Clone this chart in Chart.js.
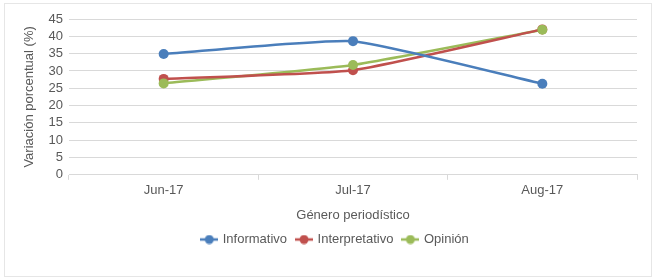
<!DOCTYPE html>
<html>
<head>
<meta charset="utf-8">
<script src="https://cdn.jsdelivr.net/npm/chart.js@4.4.1/dist/chart.umd.min.js"></script>
<style>
  html, body { margin: 0; padding: 0; background: #fff; }
  #wrap { position: relative; width: 657px; height: 279px; }
  #frame { position: absolute; left: 4px; top: 3px; width: 648px; height: 274px; border: 1px solid #e6e6e6; box-sizing: border-box; pointer-events: none; }
</style>
</head>
<body>
<div id="wrap">
  <canvas id="grafico" width="657" height="279"></canvas>
  <div id="frame"></div>
</div>
<script>
// datos del grafico
var meses = ['Jun-17', 'Jul-17', 'Aug-17'];
var informativo = [34.9, 38.6, 26.3];
var interpretativo = [27.7, 30.2, 42.0];
var opinion = [26.4, 31.7, 41.9];
var colores = ['#4a7ebb', '#c0504d', '#9bbb59'];

var fuente = "'Liberation Sans', Arial, sans-serif";
var gris = '#595959';

// marcador de la leyenda: linea con circulo
function marcador(color) {
    var c = document.createElement('canvas');
    c.width = 18; c.height = 10;
    var g = c.getContext('2d');
    g.strokeStyle = color;
    g.lineWidth = 2.5;
    g.beginPath(); g.moveTo(0, 5); g.lineTo(18, 5); g.stroke();
    g.fillStyle = color;
    g.beginPath(); g.arc(9, 5, 4.5, 0, Math.PI * 2); g.fill();
    return c;
}

function serie(nombre, datos, color) {
    return {
        label: nombre,
        data: datos,
        borderColor: color,
        backgroundColor: color,
        borderWidth: 2.5,
        pointRadius: 0,
        tension: 0.15,
        pointStyle: marcador(color)
    };
}

var ctx = document.getElementById('grafico').getContext('2d');
var grafico = new Chart(ctx, {
    type: 'line',
    data: {
        labels: meses,
        datasets: [
            serie('Informativo', informativo, colores[0]),
            serie('Interpretativo', interpretativo, colores[1]),
            serie('Opinión', opinion, colores[2])
        ]
    },
    plugins: [{
        id: 'puntos',
        // dibuja los circulos sobre las lineas
        afterDatasetsDraw: function (chart) {
            var g = chart.ctx;
            chart.data.datasets.forEach(function (ds, i) {
                chart.getDatasetMeta(i).data.forEach(function (p) {
                    g.save();
                    g.fillStyle = ds.borderColor;
                    g.beginPath(); g.arc(p.x, p.y, 5, 0, Math.PI * 2); g.fill();
                    g.restore();
                });
            });
        }
    }],
    options: {
        responsive: false,
        animation: false,
        layout: { padding: { left: 34, right: 20, top: 19, bottom: 23 } },
        plugins: {
            legend: {
                position: 'bottom',
                labels: {
                    usePointStyle: true,
                    pointStyleWidth: 14,
                    color: gris,
                    font: { family: fuente, size: 13 },
                    padding: 10
                }
            },
            tooltip: { enabled: false }
        },
        scales: {
            x: {
                offset: true,
                grid: { offset: true, drawOnChartArea: false, drawTicks: true, tickLength: 5, color: '#d9d9d9' },
                border: { color: '#d9d9d9' },
                ticks: { color: gris, font: { family: fuente, size: 13 }, padding: 3 },
                title: { display: true, text: 'Género periodístico', color: gris, font: { family: fuente, size: 13 }, padding: { top: 6, bottom: 0 } }
            },
            y: {
                min: 0,
                max: 45,
                ticks: { stepSize: 5, autoSkip: false, color: gris, font: { family: fuente, size: 13 }, padding: 6 },
                grid: { color: '#d9d9d9', drawTicks: false, lineWidth: 1 },
                border: { display: false },
                title: { display: true, text: 'Variación porcentual (%)', color: gris, font: { family: fuente, size: 13 }, padding: { top: -12, bottom: 0 } },
                afterFit: function (scale) { scale.width = 35; }
            }
        }
    }
});
</script>
</body>
</html>
